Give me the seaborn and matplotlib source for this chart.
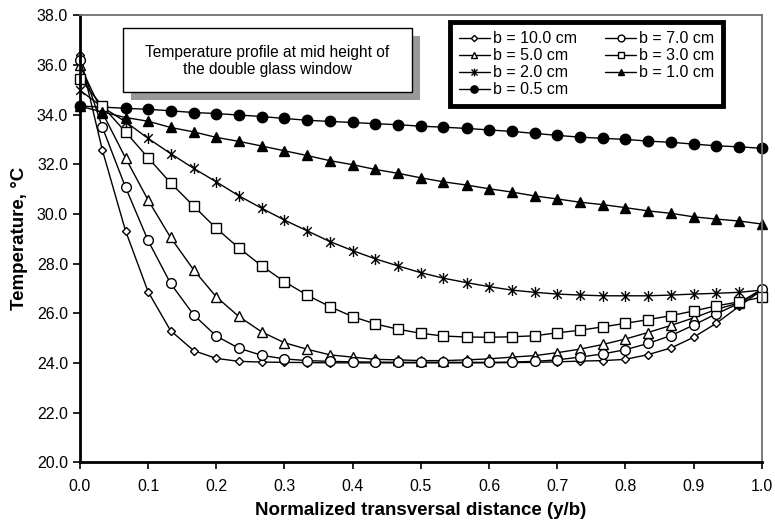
import numpy as np
import pandas as pd
import matplotlib
matplotlib.use('Agg')
import matplotlib.pyplot as plt
from matplotlib.path import Path
from matplotlib.patches import Rectangle
from matplotlib.ticker import FormatStrFormatter
import seaborn as sns

# normalized transversal distance y/b (31 grid points)
y_b = [0.0, 0.033, 0.067, 0.1, 0.133, 0.167, 0.2, 0.233, 0.267, 0.3, 0.333,
       0.367, 0.4, 0.433, 0.467, 0.5, 0.533, 0.567, 0.6, 0.633, 0.667,
       0.7, 0.733, 0.767, 0.8, 0.833, 0.867, 0.9, 0.933, 0.967, 1.0]

t_b10 = [36.39, 32.57, 29.32, 26.87, 25.30, 24.49, 24.18, 24.06, 24.03, 24.02, 24.01,
         24.00, 24.00, 24.00, 24.00, 24.00, 24.00, 24.00, 24.00, 24.01, 24.02,
         24.04, 24.07, 24.09, 24.14, 24.33, 24.60, 25.03, 25.59, 26.28, 26.93]
t_b7 = [36.19, 33.49, 31.07, 28.93, 27.20, 25.93, 25.08, 24.59, 24.30, 24.16, 24.09,
        24.06, 24.04, 24.03, 24.02, 24.02, 24.02, 24.02, 24.02, 24.03, 24.06,
        24.12, 24.23, 24.36, 24.53, 24.78, 25.10, 25.52, 25.97, 26.40, 26.96]
t_b5 = [35.99, 34.08, 32.25, 30.56, 29.05, 27.74, 26.66, 25.87, 25.24, 24.81, 24.55,
        24.32, 24.23, 24.14, 24.12, 24.09, 24.09, 24.12, 24.16, 24.23, 24.29,
        24.41, 24.55, 24.74, 24.96, 25.22, 25.51, 25.81, 26.15, 26.42, 26.96]
t_b3 = [35.45, 34.34, 33.30, 32.26, 31.25, 30.31, 29.42, 28.63, 27.90, 27.27, 26.73,
        26.26, 25.86, 25.57, 25.35, 25.19, 25.08, 25.04, 25.03, 25.05, 25.09,
        25.21, 25.31, 25.45, 25.59, 25.74, 25.90, 26.09, 26.29, 26.46, 26.64]
t_b2 = [34.98, 34.30, 33.71, 33.04, 32.43, 31.83, 31.29, 30.73, 30.22, 29.75, 29.32,
        28.88, 28.52, 28.19, 27.90, 27.63, 27.41, 27.23, 27.07, 26.93, 26.84,
        26.77, 26.73, 26.70, 26.70, 26.70, 26.73, 26.77, 26.80, 26.84, 26.93]
t_b1 = [34.34, 34.10, 33.88, 33.73, 33.48, 33.30, 33.08, 32.92, 32.73, 32.54, 32.35,
        32.14, 31.98, 31.79, 31.63, 31.45, 31.29, 31.16, 31.01, 30.88, 30.72,
        30.60, 30.47, 30.37, 30.25, 30.12, 30.02, 29.88, 29.79, 29.71, 29.59]
t_b05 = [34.34, 34.30, 34.25, 34.21, 34.15, 34.08, 34.04, 33.98, 33.92, 33.84, 33.77,
         33.72, 33.68, 33.63, 33.59, 33.53, 33.49, 33.44, 33.38, 33.32, 33.24,
         33.16, 33.09, 33.04, 33.00, 32.93, 32.88, 32.81, 32.74, 32.70, 32.64]

labels = ['b = 10.0 cm', 'b = 5.0 cm', 'b = 2.0 cm', 'b = 0.5 cm',
          'b = 7.0 cm', 'b = 3.0 cm', 'b = 1.0 cm']
series = [t_b10, t_b5, t_b2, t_b05, t_b7, t_b3, t_b1]

# asterisk marker: x plus a vertical bar
star = Path([(-1, -1), (1, 1), (-1, 1), (1, -1), (0, -1.3), (0, 1.3)],
            [Path.MOVETO, Path.LINETO, Path.MOVETO, Path.LINETO, Path.MOVETO, Path.LINETO])

styles = [
    dict(marker='D', ms=4.5, mfc='white'),
    dict(marker='^', ms=6.5, mfc='white'),
    dict(marker=star, ms=8, mfc='black'),
    dict(marker='o', ms=7.5, mfc='black'),
    dict(marker='o', ms=7, mfc='white'),
    dict(marker='s', ms=7, mfc='white'),
    dict(marker='^', ms=7, mfc='black'),
]

sns.set_style('ticks')
plt.rcParams['font.family'] = ['Liberation Sans', 'DejaVu Sans']
plt.rcParams['text.color'] = 'black'
plt.rcParams['axes.labelcolor'] = 'black'
plt.rcParams['xtick.color'] = 'black'
plt.rcParams['ytick.color'] = 'black'

fig = plt.figure(figsize=(7.75, 5.24), dpi=100)
ax = fig.add_axes([0.103, 0.118, 0.88, 0.853])

for lab, vals, st in zip(labels, series, styles):
    sns.lineplot(x=y_b, y=vals, ax=ax, color='black', lw=1.0, label=lab,
                 mec='black', mew=1.0, clip_on=False, **st)

ax.set_xlim(0, 1.0)
ax.set_ylim(20, 38)
ax.set_xticks(np.arange(0, 1.01, 0.1))
ax.set_yticks(np.arange(20, 38.1, 2))
ax.xaxis.set_major_formatter(FormatStrFormatter('%.1f'))
ax.yaxis.set_major_formatter(FormatStrFormatter('%.1f'))
ax.tick_params(axis='both', labelsize=11.5, length=5, width=1.2, direction='out')
ax.tick_params(axis='x', pad=7)

for s in ['left', 'bottom']:
    ax.spines[s].set_color('black')
    ax.spines[s].set_linewidth(2)
for s in ['top', 'right']:
    ax.spines[s].set_visible(True)
    ax.spines[s].set_color('#707070')
    ax.spines[s].set_linewidth(1.3)

ax.set_xlabel('Normalized transversal distance (y/b)', fontsize=13.5, fontweight='bold', labelpad=6)
ax.set_ylabel('Temperature, °C', fontsize=13.5, fontweight='bold', labelpad=6)

leg = ax.legend(loc='upper right', bbox_to_anchor=(0.943, 0.984), ncol=2,
                fontsize=11.5, frameon=True, fancybox=False, handlelength=1.9,
                handletextpad=0.2, columnspacing=1.8, labelspacing=0.13,
                borderpad=0.55, markerscale=0.7, borderaxespad=0)
leg.get_frame().set_edgecolor('black')
leg.get_frame().set_linewidth(3.5)
leg.get_frame().set_alpha(1)

# note box with gray shadow
ax.add_patch(Rectangle((0.075, 0.81), 0.424, 0.143, transform=ax.transAxes,
                       facecolor='#999999', edgecolor='none', zorder=5))
ax.add_patch(Rectangle((0.063, 0.828), 0.424, 0.143, transform=ax.transAxes,
                       facecolor='white', edgecolor='black', lw=1.0, zorder=6))
ax.text(0.275, 0.897, 'Temperature profile at mid height of\nthe double glass window',
        transform=ax.transAxes, ha='center', va='center', fontsize=11.2,
        linespacing=1.15, zorder=7)

fig.savefig('out.png', dpi=100)
